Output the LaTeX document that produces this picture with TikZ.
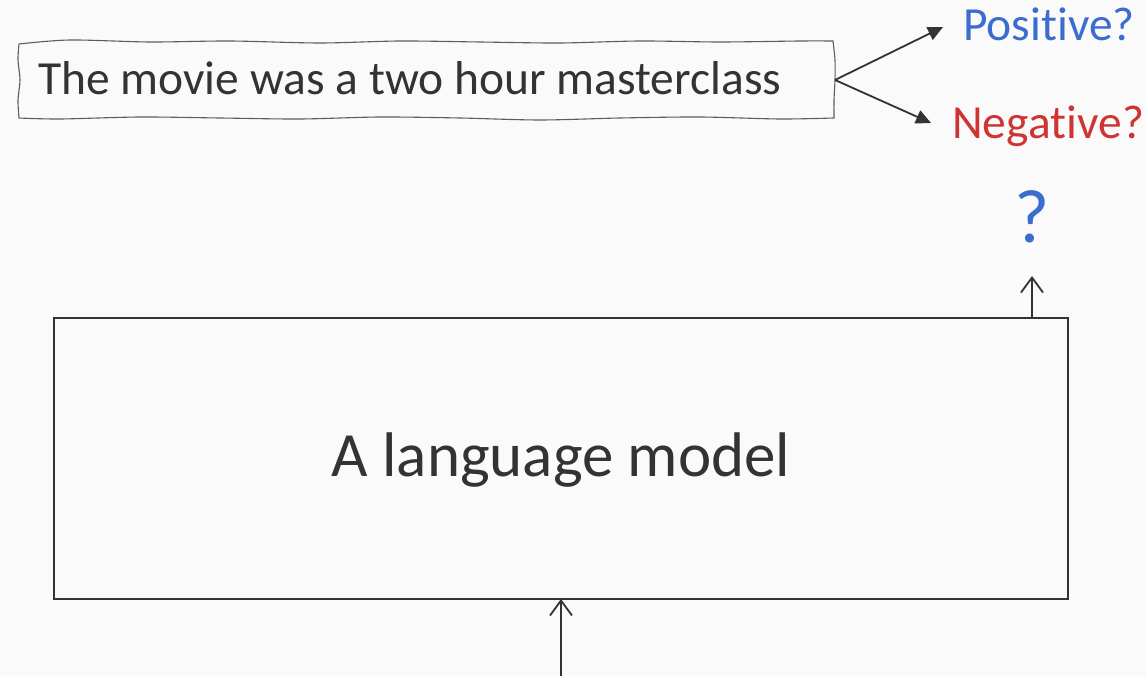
\documentclass[tikz,border=0pt]{standalone}
\usepackage{fontspec}
\setmainfont{Carlito}[RawFeature={-liga;-clig;-dlig}]
\usetikzlibrary{arrows.meta}
\definecolor{bg}{HTML}{FAFAFA}
\definecolor{ink}{HTML}{333333}
\definecolor{posblue}{HTML}{3A6DCF}
\definecolor{negred}{HTML}{CF3434}
\tikzset{
  label text/.style={inner sep=0pt, text=ink},
  feed/.style={draw=ink, line width=1.8pt, -{Straight Barb[length=15pt,width=22pt,line width=1.8pt]}},
  choice/.style={draw=ink, line width=1.8pt, -{Triangle[length=15pt,width=14pt]}},
  frame/.style={draw=ink, line width=1.6pt},
  sketch/.style={draw=ink!80, line width=1.1pt},
}
\begin{document}
\begin{tikzpicture}[x=1pt,y=-1pt]
  \fill[bg] (0,0) rectangle (1146,676);
  \useasboundingbox (0,0) rectangle (1146,676);

  % hand-drawn sentence box
  \draw[sketch] plot[smooth] coordinates {(19,44) (70,40) (150,42) (230,41) (320,43) (400,41) (480,42) (560,43) (640,41) (720,42) (800,41) (833,41)}
    -- plot[smooth] coordinates {(833,41) (835,60) (835,80) (834,100) (834,118)}
    -- plot[smooth] coordinates {(834,118) (780,119) (700,117) (620,118) (540,120) (460,118) (380,117) (300,119) (220,118) (140,117) (60,119) (19,118)}
    -- plot[smooth] coordinates {(19,118) (18,100) (20,80) (18,60) (19,44)};
  \node[label text, anchor=base west, font=\fontsize{47.5}{50}\selectfont] (sentence) at (38,95) {The movie was a two hour masterclass};
  \coordinate (fork) at (835,80);

  \node[anchor=base west, inner sep=0pt, text=posblue, font=\fontsize{47.5}{50}\selectfont] (pos) at (963,41) {Posi\kern0pt tive?};
  \node[anchor=base west, inner sep=0pt, text=negred, font=\fontsize{47.5}{50}\selectfont] (neg) at (952,139) {Nega\kern0pt tive?};
  \coordinate (posend) at (943,27);
  \coordinate (negend) at (931,123);
  \draw[choice] (fork) -- (posend);
  \draw[choice] (fork) -- (negend);

  % model block
  \draw[frame] (54,318) rectangle (1068,599);
  \node[label text, font=\fontsize{63}{66}\selectfont] (model) at (561,460) {A language model};
  \coordinate (modelbottom) at (561,599);
  \coordinate (inputfoot) at (561,676);
  \coordinate (modeltop) at (1032,318);
  \coordinate (outtip) at (1032,276);
  \node[anchor=base, inner sep=0pt, text=posblue, font=\fontsize{76}{80}\selectfont] (answer) at (1032,243) {?};
  \draw[feed] (inputfoot) -- (modelbottom);
  \draw[feed] (modeltop) -- (outtip);
\end{tikzpicture}
\end{document}
